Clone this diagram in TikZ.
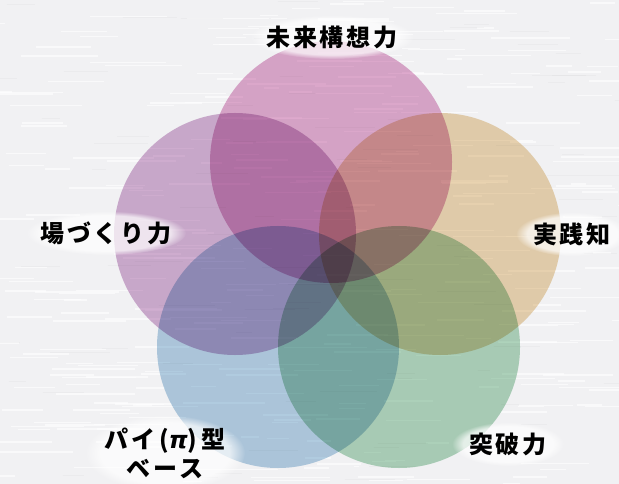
\documentclass[tikz,border=0pt]{standalone}
\usepackage{fontspec}
\newfontfamily\jp{Noto Sans CJK JP}[LetterSpace=12]
\newfontfamily\dvs{DejaVu Sans}
\usetikzlibrary{fadings}
\definecolor{bgc}{RGB}{241,241,243}
\definecolor{cpink}{RGB}{225,172,207}
\definecolor{cpurple}{RGB}{211,177,211}
\definecolor{ctan}{RGB}{236,214,178}
\definecolor{cblue}{RGB}{181,208,228}
\definecolor{cgreen}{RGB}{177,214,189}
\tikzset{
  ring/.style={circle, minimum size=242bp, inner sep=0pt, draw=none, fill=#1, blend mode=multiply},
  lbl/.style={font=\jp\bfseries\fontsize{24bp}{29bp}\selectfont, text=black, inner sep=0pt, align=center},
  glow/.style={white, fill opacity=0.7, path fading=circle with fuzzy edge 20 percent}
}
\begin{document}
\begin{tikzpicture}[x=1bp,y=-1bp]
\useasboundingbox (0,0) rectangle (619,484);
\fill[bgc] (0,0) rectangle (619,484);
% brushed texture
\pgfmathsetseed{7}
\foreach \i in {1,...,320}{
  \pgfmathsetmacro{\sx}{rnd*660-30}
  \pgfmathsetmacro{\sy}{rnd*484}
  \pgfmathsetmacro{\sl}{15+rnd*70}
  \pgfmathsetmacro{\sw}{0.6+rnd*1.6}
  \draw[white, line width=\sw bp, opacity=0.6] (\sx,\sy) -- ++(\sl,0);
}
\foreach \i in {1,...,90}{
  \pgfmathsetmacro{\sx}{rnd*660-30}
  \pgfmathsetmacro{\sy}{rnd*484}
  \pgfmathsetmacro{\sl}{10+rnd*50}
  \draw[black!20, line width=0.5bp, opacity=0.15] (\sx,\sy) -- ++(\sl,0);
}
% circles
\node[ring=cpink]   (ctop)   at (331,162) {};
\node[ring=cpurple] (cleft)  at (235,234) {};
\node[ring=ctan]    (cright) at (440,234) {};
\node[ring=cblue]   (cbl)    at (278,347) {};
\node[ring=cgreen]  (cbr)    at (399,347) {};
% label positions
\coordinate (p1) at (332,37);
\coordinate (p2) at (106,233);
\coordinate (p3) at (572,234);
\coordinate (p4) at (165,453);
\coordinate (p5) at (508,444);
\fill[glow] (p1) ellipse [x radius=82bp, y radius=22bp];
\fill[glow] (p2) ellipse [x radius=80bp, y radius=22bp];
\fill[glow] (p3) ellipse [x radius=56bp, y radius=22bp];
\fill[glow] (p4) ellipse [x radius=80bp, y radius=38bp];
\fill[glow] (p5) ellipse [x radius=56bp, y radius=22bp];
\node[lbl] (l1) at (p1) {未来構想力};
\node[lbl] (l2) at (p2) {場づくり力};
\node[lbl] (l3) at (p3) {実践知};
\node[lbl] (l4) at (p4) {パイ\,({\dvs\bfseries\itshape π})\,型\\ベース};
\node[lbl] (l5) at (p5) {突破力};
\end{tikzpicture}
\end{document}
